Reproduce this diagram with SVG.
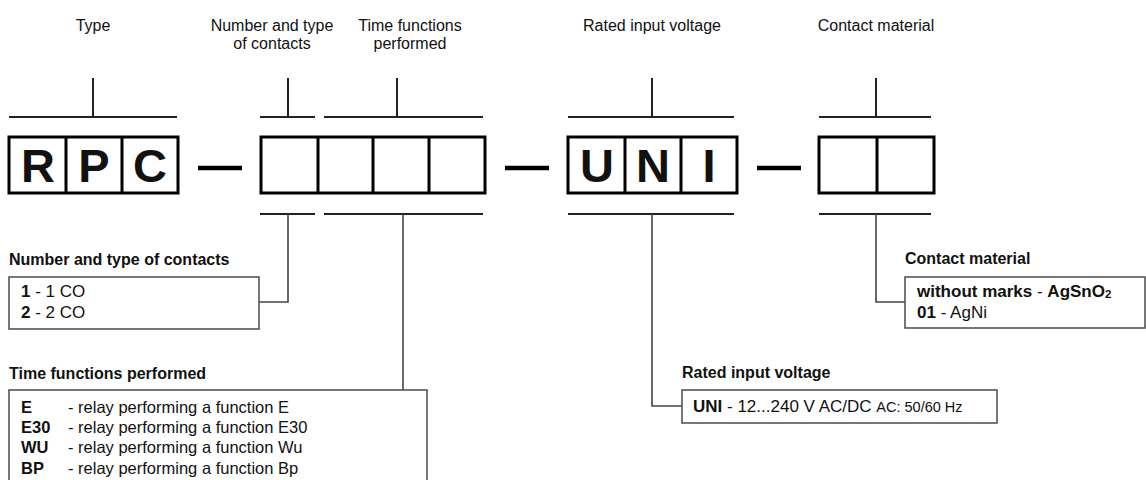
<svg xmlns="http://www.w3.org/2000/svg" width="1146" height="480" viewBox="0 0 1146 480">
<style>
text{font-family:"Liberation Sans",Arial,sans-serif;fill:#111}
.hd{font-size:16px;text-anchor:middle}
.lb{font-size:16px;font-weight:bold}
.it{font-size:17px}
.fn{font-size:16.5px}
.b{font-weight:bold}
.big{font-size:47px;font-weight:bold;text-anchor:middle}
.br{stroke:#222;stroke-width:2;fill:none}
.cn{stroke:#444;stroke-width:1.6;fill:none}
.cell{fill:#fff;stroke:#000;stroke-width:3}
.dash{stroke:#000;stroke-width:4.5}
.box{fill:#fff;stroke:#555;stroke-width:1.6}
</style>
<rect width="1146" height="480" fill="#fff"/>

<g id="headers">
<text class="hd" x="93" y="31">Type</text>
<text class="hd" x="272" y="31">Number and type</text>
<text class="hd" x="272" y="49">of contacts</text>
<text class="hd" x="410" y="31">Time functions</text>
<text class="hd" x="410" y="49">performed</text>
<text class="hd" x="652" y="31">Rated input voltage</text>
<text class="hd" x="876" y="31">Contact material</text>
</g>

<g id="top-brackets">
<path class="br" d="M9,117 H177 M93,78 V117"/>
<path class="br" d="M260,117 H315 M288,78 V117"/>
<path class="br" d="M324,117 H483 M397,78 V117"/>
<path class="br" d="M568,117 H734 M652,78 V117"/>
<path class="br" d="M819,117 H931 M876,78 V117"/>
</g>

<g id="code-type">
<rect class="cell" x="9" y="137" width="169" height="56"/>
<path class="cell" d="M66,137 V193 M122,137 V193"/>
<text class="big" x="38" y="182">R</text>
<text class="big" x="94" y="182">P</text>
<text class="big" x="150" y="182">C</text>
</g>

<g id="code-function">
<rect class="cell" x="261" y="137" width="224" height="56"/>
<path class="cell" d="M318,137 V193 M373,137 V193 M429,137 V193"/>
</g>

<g id="code-voltage">
<rect class="cell" x="568" y="137" width="169" height="56"/>
<path class="cell" d="M625,137 V193 M681,137 V193"/>
<text class="big" x="597" y="182">U</text>
<text class="big" x="653" y="182">N</text>
<text class="big" x="709" y="182">I</text>
</g>

<g id="code-material">
<rect class="cell" x="819" y="137" width="115" height="56"/>
<path class="cell" d="M877,137 V193"/>
</g>

<g id="dashes">
<path class="dash" d="M198,168 H242 M505,168 H549 M757,168 H801"/>
</g>

<g id="connectors">
<path class="br" d="M260,214 H315 M324,214 H483 M568,214 H734 M819,214 H931"/>
<path class="cn" d="M288,214 V302 H259"/>
<path class="cn" d="M403,214 V390"/>
<path class="cn" d="M652,214 V406 H682"/>
<path class="cn" d="M876,214 V302 H905"/>
</g>

<g id="legend-contacts">
<text class="lb" x="9" y="265">Number and type of contacts</text>
<rect class="box" x="9" y="277" width="250" height="52"/>
<text class="it" x="21" y="297"><tspan class="b">1</tspan> - 1 CO</text>
<text class="it" x="21" y="318"><tspan class="b">2</tspan> - 2 CO</text>
</g>

<g id="legend-functions">
<text class="lb" x="9" y="379">Time functions performed</text>
<rect class="box" x="9" y="390" width="418" height="110"/>
<text class="fn b" x="21" y="413">E</text>
<text class="fn" x="68" y="413">- relay performing a function E</text>
<text class="fn b" x="21" y="433">E30</text>
<text class="fn" x="68" y="433">- relay performing a function E30</text>
<text class="fn b" x="21" y="453">WU</text>
<text class="fn" x="68" y="453">- relay performing a function Wu</text>
<text class="fn b" x="21" y="474">BP</text>
<text class="fn" x="68" y="474">- relay performing a function Bp</text>
</g>

<g id="legend-voltage">
<text class="lb" x="682" y="378">Rated input voltage</text>
<rect class="box" x="682" y="390" width="315" height="33"/>
<text class="it" x="693" y="412"><tspan class="b">UNI</tspan> - 12...240 V AC/DC <tspan font-size="14.5">AC: 50/60 Hz</tspan></text>
</g>

<g id="legend-material">
<text class="lb" x="905" y="264">Contact material</text>
<rect class="box" x="905" y="277" width="240" height="51"/>
<text class="it" x="917" y="297"><tspan class="b">without marks</tspan> - <tspan class="b">AgSnO</tspan><tspan class="b" font-size="11.5" dy="1">2</tspan></text>
<text class="it" x="917" y="318"><tspan class="b">01</tspan> - AgNi</text>
</g>
</svg>
